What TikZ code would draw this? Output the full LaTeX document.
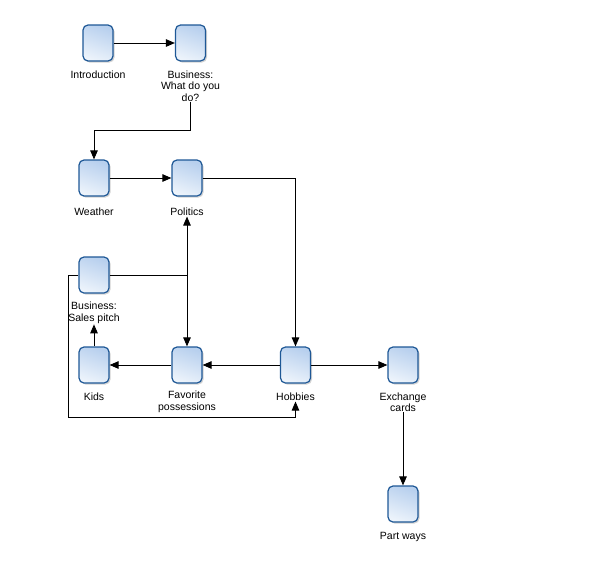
\documentclass[tikz,border=0pt]{standalone}
\usepackage{fontspec}
\setmainfont{Liberation Sans}
\usetikzlibrary{arrows.meta,shadows}
\definecolor{boxborder}{RGB}{30,88,150}
\definecolor{boxtop}{RGB}{184,208,238}
\definecolor{boxbot}{RGB}{236,243,251}
\begin{document}
\begin{tikzpicture}[x=1pt,y=-1pt,
  card/.style={draw=boxborder,line width=1.2pt,rounded corners=5pt,
    minimum width=30pt,minimum height=36pt,inner sep=0pt,
    top color=boxtop,bottom color=boxbot,shading angle=-20,
    drop shadow={shadow xshift=1.5pt,shadow yshift=-1.5pt,opacity=0.35}},
  lbl/.style={align=center,inner sep=0.5pt,font=\fontsize{10.5}{11.5}\selectfont},
  conn/.style={draw=black,line width=0.9pt,-{Triangle[length=9pt,width=7.5pt]}},
  plain/.style={draw=black,line width=0.9pt}]
\useasboundingbox (0,0) rectangle (600,565);
% boxes
\node[card] (intro) at (98,43) {};
\node[card] (bizq) at (190.5,43) {};
\node[card] (weather) at (94,178) {};
\node[card] (politics) at (187,178) {};
\node[card] (sales) at (94,275) {};
\node[card] (kids) at (94,365) {};
\node[card] (fav) at (187,365) {};
\node[card] (hobbies) at (295.5,365) {};
\node[card] (exch) at (403,365) {};
\node[card] (part) at (403,504) {};
% labels
\node[lbl] (introL) at (98,75) {Introduction};
\node[lbl] (bizqL) at (190.5,86) {Business:\\What do you\\do?};
\node[lbl] (weatherL) at (94,212) {Weather};
\node[lbl] (politicsL) at (187,212) {Politics};
\node[lbl] (salesL) at (94,313) {Business:\\Sales pitch};
\node[lbl] (kidsL) at (94,397) {Kids};
\node[lbl] (favL) at (187,402) {Favorite\\possessions};
\node[lbl] (hobbiesL) at (295.5,397) {Hobbies};
\node[lbl] (exchL) at (403,402) {Exchange\\cards};
\node[lbl] (partL) at (403,537) {Part ways};
% junction coordinates
\coordinate (j1) at (187,275);
\coordinate (j2) at (68,417);
% connectors
\draw[conn] (intro.east) -- (bizq.west);
\draw[conn] (bizqL.south) |- (94,130) -- (weather.north);
\draw[conn] (weather.east) -- (politics.west);
\draw[conn] (politics.east) -| (hobbies.north);
\draw[plain] (sales.east) -- (j1);
\draw[conn] (j1) -- (politicsL.south);
\draw[conn] (j1) -- (fav.north);
\draw[conn] (sales.west) -| (j2) -| (hobbiesL.south);
\draw[conn] (kids.north) -- (salesL.south);
\draw[conn] (fav.west) -- (kids.east);
\draw[conn] (hobbies.west) -- (fav.east);
\draw[conn] (hobbies.east) -- (exch.west);
\draw[conn] (exchL.south) -- (part.north);
\end{tikzpicture}
\end{document}
